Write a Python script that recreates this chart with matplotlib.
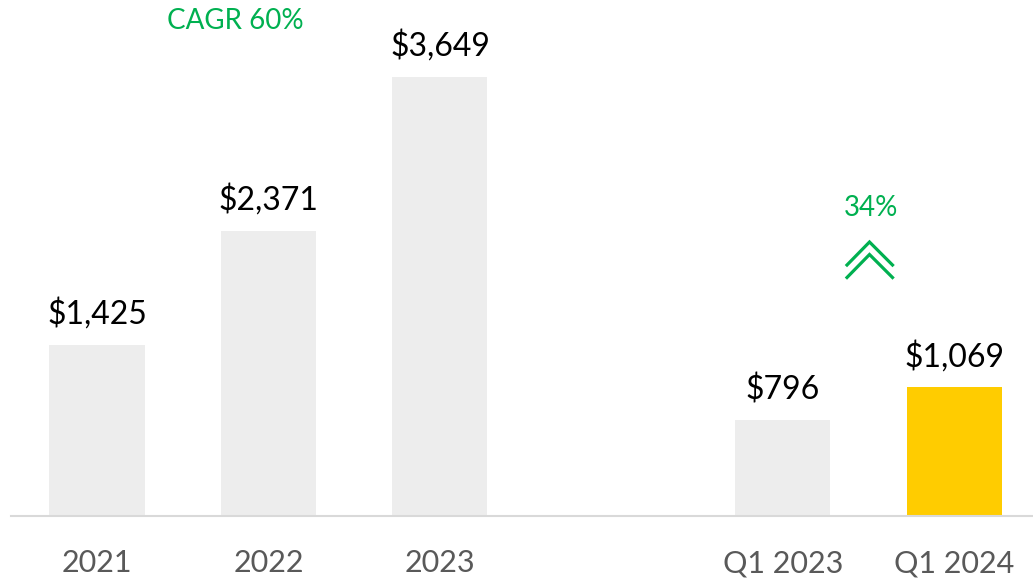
import matplotlib
matplotlib.use('Agg')
import matplotlib.pyplot as plt
from matplotlib.lines import Line2D

# data
categories = ['2021', '2022', '2023', 'Q1 2023', 'Q1 2024']
positions = [0, 1, 2, 4, 5]
values = [1425, 2371, 3649, 796, 1069]
value_labels = ['$1,425', '$2,371', '$3,649', '$796', '$1,069']
bar_colors = ['#EDEDED', '#EDEDED', '#EDEDED', '#EDEDED', '#FFCC00']
cagr_text = 'CAGR 60%'
growth_text = '34%'

GREEN = '#00B050'
W, H = 1033, 579

plt.rcParams['font.family'] = ['Lato', 'DejaVu Sans']

fig = plt.figure(figsize=(W / 100, H / 100), dpi=100)
ax = fig.add_axes([11 / W, 63 / H, 1 - 11 / W, 1 - 63 / H])

ax.bar(positions, values, width=0.554, color=bar_colors, zorder=2)
ax.set_xlim(-0.5015, 5.458)
ax.set_ylim(0, 4292)

for x, v, lab in zip(positions, values, value_labels):
    ax.annotate(lab, (x, v), xytext=(0, 11), textcoords='offset points',
                ha='center', va='bottom', fontsize=23, color='black')

for x, c in zip(positions, categories):
    ax.annotate(c, (x, 0), xytext=(0, -24), textcoords='offset points',
                ha='center', va='top', fontsize=22, color='#595959',
                annotation_clip=False)

for s in ['top', 'right', 'left']:
    ax.spines[s].set_visible(False)
ax.spines['bottom'].set_color('#D9D9D9')
ax.spines['bottom'].set_linewidth(1.5)
ax.set_xticks([])
ax.set_yticks([])

# green annotations (pixel positions)
fig.text(235 / W, 1 - 21 / H, cagr_text, color=GREEN, fontsize=20,
         ha='center', va='center')
fig.text(871 / W, 1 - 208 / H, growth_text, color=GREEN, fontsize=20,
         ha='center', va='center')

# double chevron
for apex_y in [242, 254.5]:
    xs = [847 / W, 869.5 / W, 892.5 / W]
    ys = [1 - (apex_y + 23) / H, 1 - apex_y / H, 1 - (apex_y + 23) / H]
    fig.add_artist(Line2D(xs, ys, color=GREEN, linewidth=2.3,
                          solid_joinstyle='miter', transform=fig.transFigure))

fig.savefig('out.png', dpi=100)
